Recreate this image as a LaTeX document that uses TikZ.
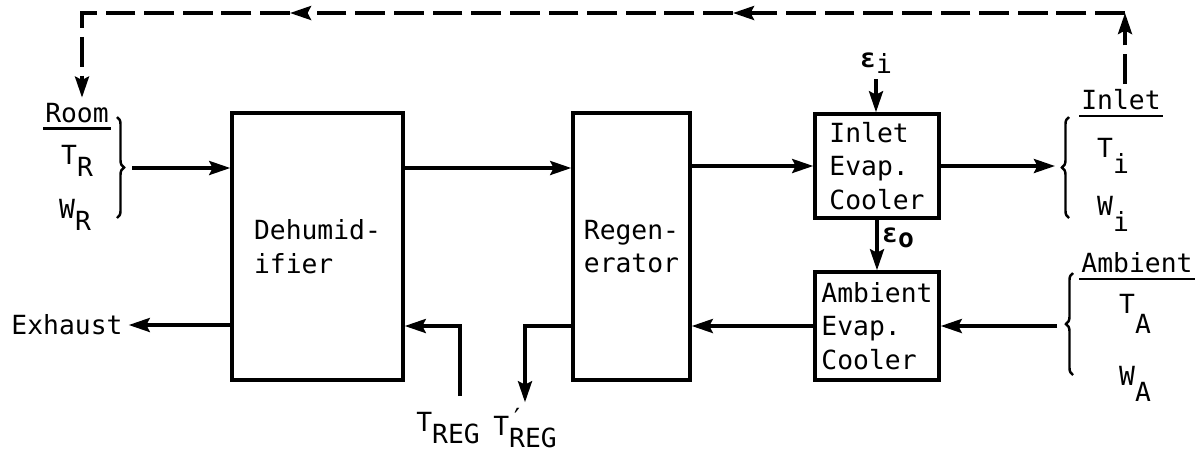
\documentclass[tikz,border=0pt]{standalone}
\usepackage{fontspec}
\setmainfont{DejaVu Sans Mono}
\usetikzlibrary{positioning,arrows.meta,calc,decorations.pathreplacing}
\newcommand{\lowr}[2][0.8ex]{\raisebox{-#1}{#2}}

\begin{document}
\begin{tikzpicture}[
  x=0.02cm,y=-0.02cm,
  font=\fontsize{15}{19}\selectfont,
  box/.style={draw,line width=2pt,inner sep=0pt,align=left},
  head/.style={inner xsep=1pt,inner ysep=3pt},
  rule/.style={line width=1.4pt},
  arr/.style={-{Stealth[length=12pt,width=8pt,inset=2pt]},line width=1.9pt},
  fb/.style={arr,dash pattern=on 17pt off 5pt},
  brc/.style={decorate,decoration={brace,amplitude=4pt},line width=1.4pt}]
  \useasboundingbox (0,0) rectangle (1198,451);
  % units
  \node[box,minimum width=3.42cm,minimum height=5.34cm] (dehum) at (317.5,246.5) {Dehumid-\\ifier};
  \node[box,minimum width=2.34cm,minimum height=5.34cm] (regen) at (631.5,246.5) {Regen-\\erator};
  \node[box,minimum width=2.48cm,minimum height=2.08cm] (inevap) at (877,166) {Inlet\\Evap.\\Cooler};
  \node[box,minimum width=2.48cm,minimum height=2.16cm] (ambevap) at (877,326) {Ambient\\Evap.\\Cooler};
  % room side
  \node[head] (roomhd) at (77,113) {Room};
  \node (tr) at (77,161) {T\lowr{R}};
  \node (wr) at (75,215) {W\lowr{R}};
  \node (exhaust) at (67,325) {Exhaust};
  % inlet and ambient side
  \node[head] (inlethd) at (1121,100) {Inlet};
  \node (ti) at (1113,156) {T\lowr[1.1ex]{i}};
  \node (wi) at (1113,214) {W\lowr[1.1ex]{i}};
  \node[head] (ambhd) at (1137,263) {Ambient};
  \node (ta) at (1135,314) {T\lowr[1.4ex]{A}};
  \node (wa) at (1135,384) {W\lowr[1.1ex]{A}};
  % effectiveness and regeneration temperatures
  \node (epsi) at (876,63) {\textbf{ε}\lowr[0.4ex]{i}};
  \node (epso) at (898,238) {\textbf{ε}\lowr[0.3ex]{\textbf{o}}};
  \node (treg) at (448,428) {T\lowr{REG}};
  \node (tregp) at (525,428) {T\rlap{\raisebox{0.55ex}{′}}\lowr{REG}};
  \coordinate (rmtip) at (132,168);
  \coordinate (intip) at (1055,166);
  \coordinate (ambtip) at (1057,326);
  \coordinate (tregin) at (460,396);
  \coordinate (fbr) at (1125,13);
  \coordinate (fbm1) at (733,13);
  \coordinate (fbm2) at (290,13);
  \coordinate (fbl) at (82,13);
  % headings and braces
  \draw[rule] (roomhd.south west) -- (roomhd.south east);
  \draw[rule] (inlethd.south west) -- (inlethd.south east);
  \draw[rule] (ambhd.south west) -- (ambhd.south east);
  \draw[brc] (117,117) -- (117,218);
  \draw[brc] (1069,218) -- (1069,117);
  \draw[brc] (1073,375) -- (1073,273);
  % air streams
  \draw[arr] (rmtip) -- (rmtip -| dehum.west);
  \draw[arr] (dehum.east |- rmtip) -- (regen.west |- rmtip);
  \draw[arr] (regen.east |- inevap.west) -- (inevap.west);
  \draw[arr] (inevap.east) -- (intip);
  \draw[arr] (ambtip) -- (ambevap.east);
  \draw[arr] (ambevap.west) -- (regen.east |- ambevap.west);
  \draw[arr] (regen.west |- ambevap.west) -| (tregp.north);
  \draw[arr] (tregin) |- (dehum.east |- ambevap.west);
  \draw[arr] (dehum.west |- exhaust) -- (exhaust.east);
  \draw[arr] (epsi.south) -- (epsi.south |- inevap.north);
  \draw[arr] (inevap.south) -- (ambevap.north);
  % feedback
  \draw[fb] (inlethd.north -| fbr) -- (fbr);
  \draw[fb] (fbr) -- (fbm1);
  \draw[fb] (fbm1) -- (fbm2);
  \draw[fb] (fbm2) -- (fbl) -- (roomhd.north -| fbl);
\end{tikzpicture}
\end{document}
